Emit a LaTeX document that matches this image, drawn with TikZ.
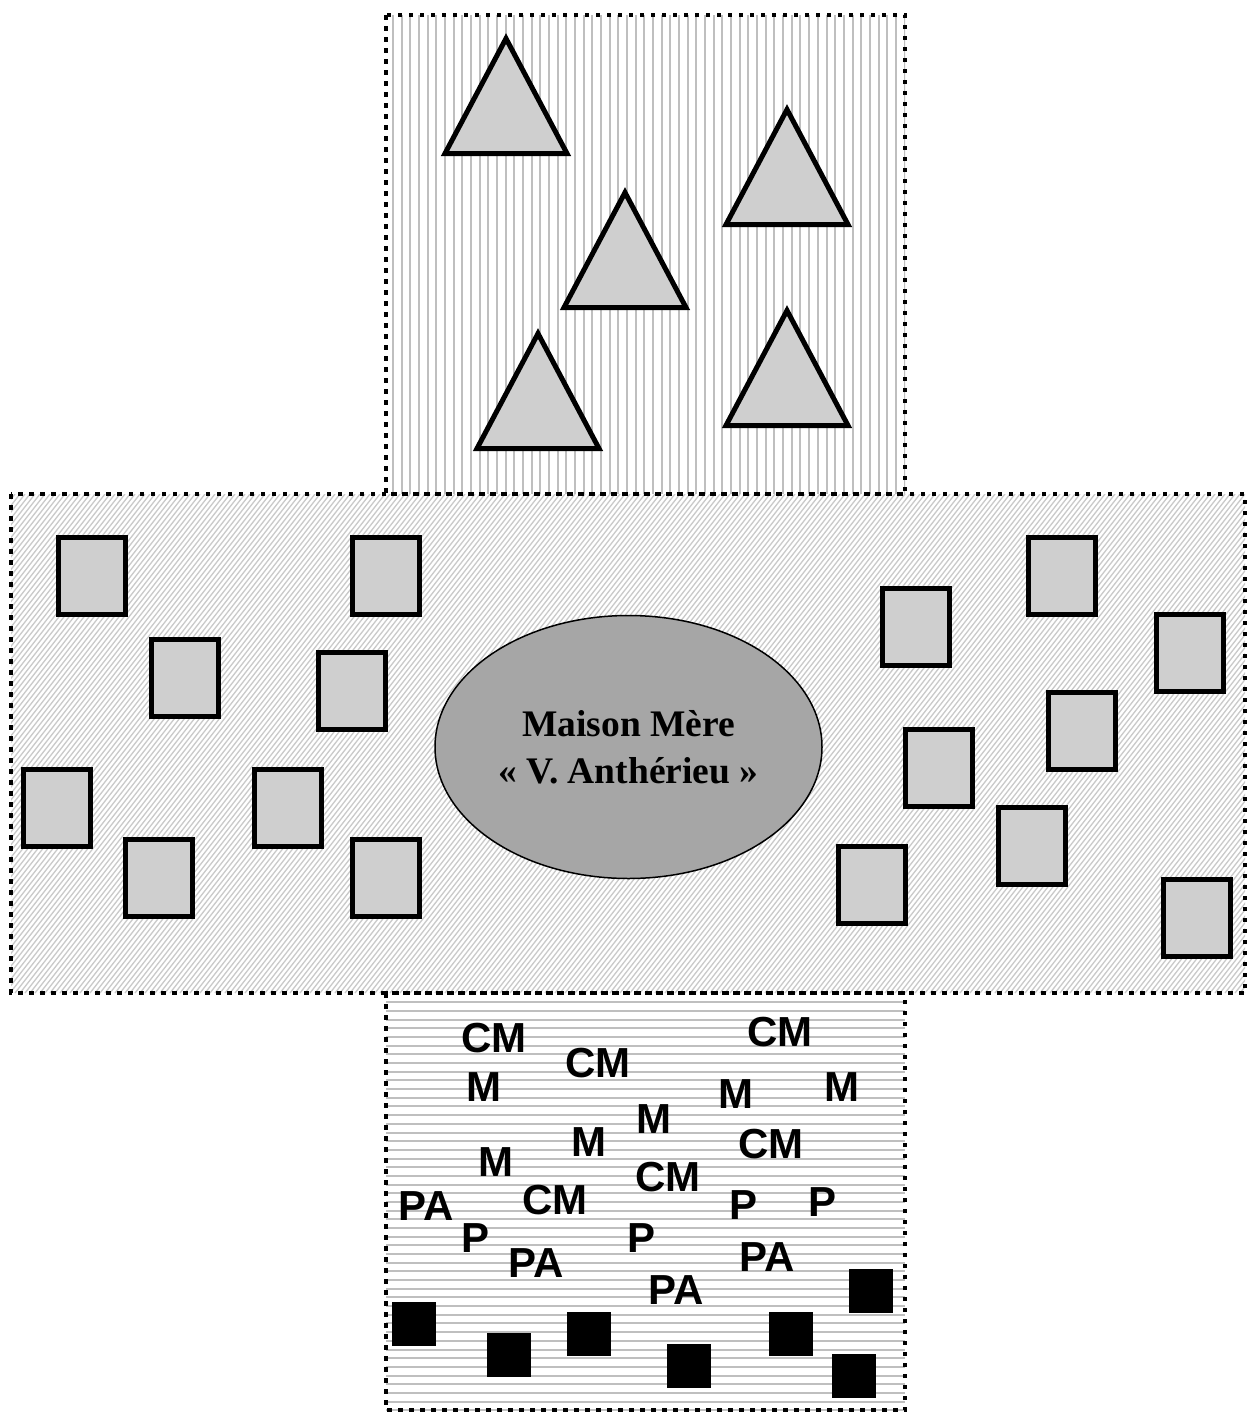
\documentclass[tikz,border=0pt]{standalone}
\usepackage{fontspec}
\setmainfont{Liberation Serif}
\newfontfamily\lettersfont{Liberation Sans}
\usetikzlibrary{shapes.geometric}
\definecolor{hatchgray}{HTML}{BFBFBF}
\definecolor{diaggray}{HTML}{CACACA}
\definecolor{shapefill}{HTML}{CFCFCF}
\definecolor{ovalfill}{HTML}{A6A6A6}
\tikzset{
  panelborder/.style={line width=4.5pt, dash pattern=on 4.5pt off 6.5pt},
  hatchline/.style={hatchgray, line width=2pt},
  diagline/.style={diaggray, line width=1.3pt},
  shapebox/.style={draw=black, line width=5pt, fill=shapefill, line join=miter, miter limit=10},
  lettertag/.style={font=\lettersfont\bfseries\fontsize{42}{42}\selectfont, inner sep=0pt},
  ovalnode/.style={ellipse, draw=black, line width=1.5pt, fill=ovalfill, minimum width=387pt, minimum height=263pt, inner sep=0pt, align=center, font=\bfseries\fontsize{37.5}{47}\selectfont},
}
\newcommand\tri[2]{\draw[shapebox] ({#1},{#2+5.5}) -- ({#1+61},{#2+120.5}) -- ({#1-61},{#2+120.5}) -- cycle;}
\newcommand\gsq[2]{\draw[shapebox] ({#1+2.5},{#2+2.5}) rectangle ({#1+69.5},{#2+79.5});}
\newcommand\bsq[2]{\fill[black] ({#1},{#2}) rectangle ({#1+44},{#2+44});}
\begin{document}
\begin{tikzpicture}[x=1pt,y=-1pt]
\useasboundingbox (0,0) rectangle (1250,1414);
\fill[white] (0,0) rectangle (1250,1414);
% top panel: vertical hatching
\begin{scope}
  \clip (386,15) rectangle (905,494);
  \foreach \i in {0,...,60} \draw[hatchline] ({393+8.67*\i},15) -- ({393+8.67*\i},494);
\end{scope}
% middle panel: diagonal hatching
\begin{scope}
  \clip (11,494) rectangle (1245,993);
  \foreach \i in {0,...,335} \draw[diagline] ({-400+5*\i},993) -- ({-400+5*\i+390},494);
\end{scope}
% bottom panel: horizontal hatching
\begin{scope}
  \clip (386,993) rectangle (905,1410);
  \foreach \i in {0,...,48} \draw[hatchline] (386,{1002.3+8.68*\i}) -- (905,{1002.3+8.68*\i});
\end{scope}
% triangles
\tri{506}{33}
\tri{787}{104}
\tri{625}{187}
\tri{538}{328}
\tri{787}{305}
% grey squares, left
\gsq{56}{535}
\gsq{350}{535}
\gsq{149}{637}
\gsq{316}{650}
\gsq{21}{767}
\gsq{252}{767}
\gsq{123}{837}
\gsq{350}{837}
% grey squares, right
\gsq{1026}{535}
\gsq{880}{586}
\gsq{1154}{612}
\gsq{1046}{690}
\gsq{903}{727}
\gsq{996}{805}
\gsq{836}{844}
\gsq{1161}{877}
% central ellipse
\node[ovalnode] (mm) at (628.5,747) {Maison Mère\\« V. Anthérieu »};
% letters
\node[lettertag] (l1) at (494,1038) {CM};
\node[lettertag] (l2) at (780,1032) {CM};
\node[lettertag] (l3) at (598,1063) {CM};
\node[lettertag] (l4) at (484,1087) {M};
\node[lettertag] (l5) at (736,1094) {M};
\node[lettertag] (l6) at (842,1087) {M};
\node[lettertag] (l7) at (654,1119) {M};
\node[lettertag] (l8) at (589,1142) {M};
\node[lettertag] (l9) at (771,1144) {CM};
\node[lettertag] (l10) at (496,1162) {M};
\node[lettertag] (l11) at (668,1177) {CM};
\node[lettertag] (l12) at (426,1206) {PA};
\node[lettertag] (l13) at (555,1200) {CM};
\node[lettertag] (l14) at (743,1205) {P};
\node[lettertag] (l15) at (822,1202) {P};
\node[lettertag] (l16) at (476,1238) {P};
\node[lettertag] (l17) at (641,1238) {P};
\node[lettertag] (l18) at (536,1263) {PA};
\node[lettertag] (l19) at (767,1257) {PA};
\node[lettertag] (l20) at (676,1290) {PA};
% black squares
\bsq{392}{1302}
\bsq{487}{1333}
\bsq{567}{1312}
\bsq{667}{1344}
\bsq{769}{1312}
\bsq{849}{1269}
\bsq{832}{1354}
% panel borders
\draw[panelborder] (386,15) rectangle (905,494);
\draw[panelborder] (11,494) rectangle (1245,993);
\draw[panelborder] (386,993) rectangle (905,1410);
\end{tikzpicture}
\end{document}
